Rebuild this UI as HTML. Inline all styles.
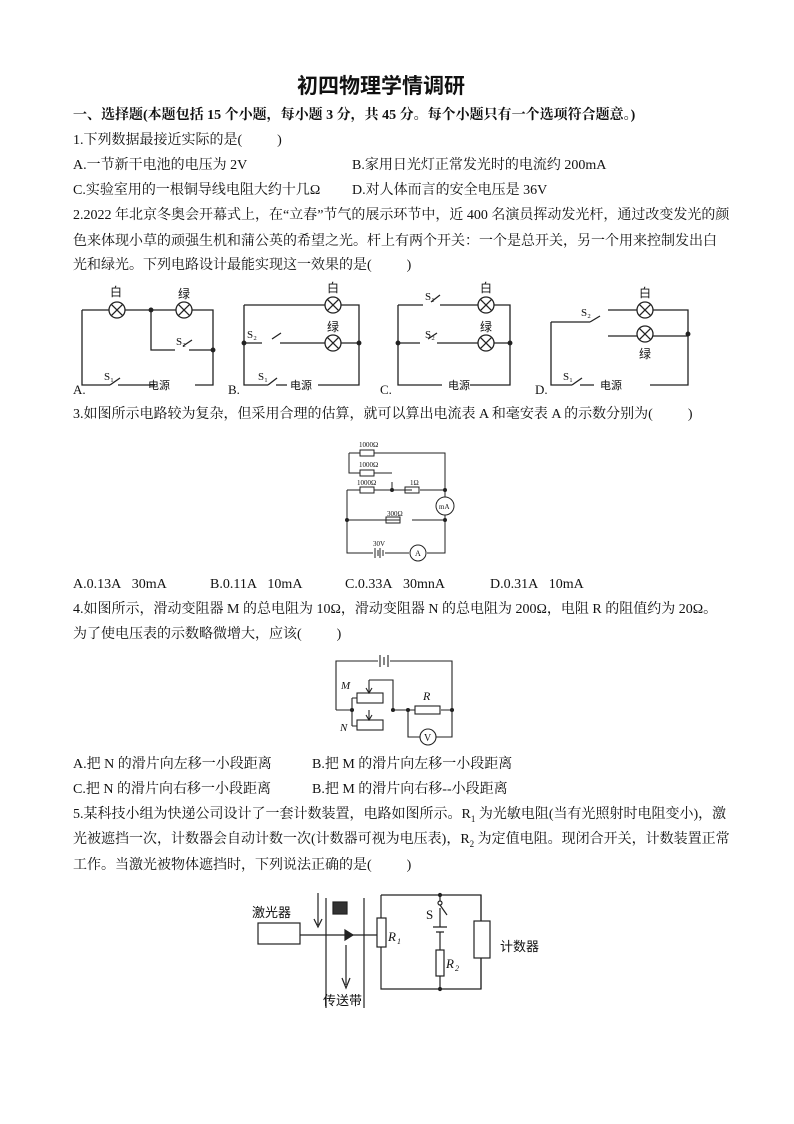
<!DOCTYPE html>
<html><head><meta charset="utf-8"><style>
body{margin:0;background:#fff;}
#p{position:relative;width:794px;height:1124px;overflow:hidden;font-family:"Liberation Serif","Noto Serif CJK SC","Noto Sans CJK SC",serif;color:#111;}
.t{position:absolute;left:73px;font-size:14px;white-space:nowrap;line-height:16px;}
svg{position:absolute;left:0;top:0;}
svg text{font-family:"Liberation Serif","Noto Sans CJK SC",serif;fill:#111;}
</style></head><body><div id="p">
<div class="t" style="left:297px;top:73px;font-size:21px;line-height:24px;font-family:'Noto Sans CJK SC',sans-serif;font-weight:bold;">初四物理学情调研</div>
<div class="t" style="top:108px;font-weight:bold;">一、选择题(本题包括 15 个小题，每小题 3 分，共 45 分。每个小题只有一个选项符合题意。)</div>
<div class="t" style="top:133px;">1.下列数据最接近实际的是(&nbsp;&nbsp;&nbsp;&nbsp;&nbsp;&nbsp;&nbsp;&nbsp;&nbsp;&nbsp;)</div>
<div class="t" style="top:158px;">A.一节新干电池的电压为 2V</div>
<div class="t" style="top:158px;left:352px;">B.家用日光灯正常发光时的电流约 200mA</div>
<div class="t" style="top:183px;">C.实验室用的一根铜导线电阻大约十几Ω</div>
<div class="t" style="top:183px;left:352px;">D.对人体而言的安全电压是 36V</div>
<div class="t" style="top:208px;">2.2022 年北京冬奥会开幕式上，在“立春”节气的展示环节中，近 400 名演员挥动发光杆，通过改变发光的颜</div>
<div class="t" style="top:234px;">色来体现小草的顽强生机和蒲公英的希望之光。杆上有两个开关：一个是总开关，另一个用来控制发出白</div>
<div class="t" style="top:258px;">光和绿光。下列电路设计最能实现这一效果的是(&nbsp;&nbsp;&nbsp;&nbsp;&nbsp;&nbsp;&nbsp;&nbsp;&nbsp;&nbsp;)</div>
<div class="t" style="top:407px;">3.如图所示电路较为复杂，但采用合理的估算，就可以算出电流表 A 和毫安表 A 的示数分别为(&nbsp;&nbsp;&nbsp;&nbsp;&nbsp;&nbsp;&nbsp;&nbsp;&nbsp;&nbsp;)</div>
<div class="t" style="top:577px;">A.0.13A&nbsp;&nbsp;&nbsp;30mA</div>
<div class="t" style="top:577px;left:210px;">B.0.11A&nbsp;&nbsp;&nbsp;10mA</div>
<div class="t" style="top:577px;left:345px;">C.0.33A&nbsp;&nbsp;&nbsp;30mnA</div>
<div class="t" style="top:577px;left:490px;">D.0.31A&nbsp;&nbsp;&nbsp;10mA</div>
<div class="t" style="top:602px;">4.如图所示，滑动变阻器 M 的总电阻为 10Ω，滑动变阻器 N 的总电阻为 200Ω，电阻 R 的阻值约为 20Ω。</div>
<div class="t" style="top:627px;">为了使电压表的示数略微增大，应该(&nbsp;&nbsp;&nbsp;&nbsp;&nbsp;&nbsp;&nbsp;&nbsp;&nbsp;&nbsp;)</div>
<div class="t" style="top:757px;">A.把 N 的滑片向左移一小段距离</div>
<div class="t" style="top:757px;left:312px;">B.把 M 的滑片向左移一小段距离</div>
<div class="t" style="top:782px;">C.把 N 的滑片向右移一小段距离</div>
<div class="t" style="top:782px;left:312px;">B.把 M 的滑片向右移--小段距离</div>
<div class="t" style="top:807px;">5.某科技小组为快递公司设计了一套计数装置，电路如图所示。R<sub style="font-size:9px">1</sub> 为光敏电阻(当有光照射时电阻变小)，激</div>
<div class="t" style="top:832px;">光被遮挡一次，计数器会自动计数一次(计数器可视为电压表)，R<sub style="font-size:9px">2</sub> 为定值电阻。现闭合开关，计数装置正常</div>
<div class="t" style="top:858px;">工作。当激光被物体遮挡时，下列说法正确的是(&nbsp;&nbsp;&nbsp;&nbsp;&nbsp;&nbsp;&nbsp;&nbsp;&nbsp;&nbsp;)</div>

<svg width="794" height="1124" viewBox="0 0 794 1124" stroke="#222" stroke-width="1.3" fill="none">
<defs><g id="L"><circle r="8" fill="#fff"/><path d="M-5.6 -5.6L5.6 5.6M-5.6 5.6L5.6 -5.6"/></g></defs>
<!-- A -->
<path d="M82 310H213V385H195M82 310V385H110M118 385H155M151 310V350H175M183 346L192 340M189 350H213"/>
<path d="M110 385L120 378"/>
<use href="#L" x="117" y="310"/><use href="#L" x="184" y="310"/>
<circle cx="151" cy="310" r="1.8" fill="#222"/><circle cx="213" cy="350" r="1.8" fill="#222"/>
<text x="110" y="296" font-size="12" stroke="none">白</text><text x="178" y="298" font-size="12" stroke="none">绿</text>
<text x="176" y="345" font-size="11" stroke="none">S₂</text><text x="104" y="380" font-size="11" stroke="none">S₁</text>
<text x="148" y="389" font-size="11" stroke="none">电源</text>
<text x="73" y="394" font-size="13" stroke="none">A.</text>
<!-- B -->
<path d="M244 305H359V385H318M244 305V385H268M276 385H287M244 343H262M272 339L281 333M280 343H359"/>
<path d="M268 385L277 378"/>
<use href="#L" x="333" y="305"/><use href="#L" x="333" y="343"/>
<circle cx="244" cy="343" r="1.8" fill="#222"/><circle cx="359" cy="343" r="1.8" fill="#222"/>
<text x="327" y="292" font-size="12" stroke="none">白</text><text x="327" y="331" font-size="12" stroke="none">绿</text>
<text x="247" y="338" font-size="11" stroke="none">S₂</text><text x="258" y="380" font-size="11" stroke="none">S₁</text>
<text x="290" y="389" font-size="11" stroke="none">电源</text>
<text x="228" y="394" font-size="13" stroke="none">B.</text>
<!-- C -->
<path d="M398 305H423M431 302L440 295M440 305H510V385H470M398 305V385H442M398 343H420M428 339L437 333M437 343H510"/>
<use href="#L" x="486" y="305"/><use href="#L" x="486" y="343"/>
<circle cx="398" cy="343" r="1.8" fill="#222"/><circle cx="510" cy="343" r="1.8" fill="#222"/>
<text x="480" y="292" font-size="12" stroke="none">白</text><text x="480" y="331" font-size="12" stroke="none">绿</text>
<text x="425" y="300" font-size="11" stroke="none">S₁</text><text x="425" y="338" font-size="11" stroke="none">S₂</text>
<text x="448" y="389" font-size="11" stroke="none">电源</text>
<text x="380" y="394" font-size="13" stroke="none">C.</text>
<!-- D -->
<path d="M551 322H590M590 322L600 316M608 310H688V385H650M608 336H688M551 322V385H572M580 385H594"/>
<path d="M572 385L582 378"/>
<use href="#L" x="645" y="310"/><use href="#L" x="645" y="334"/>
<circle cx="688" cy="334" r="1.8" fill="#222"/>
<text x="639" y="297" font-size="12" stroke="none">白</text><text x="639" y="358" font-size="12" stroke="none">绿</text>
<text x="581" y="316" font-size="11" stroke="none">S₂</text><text x="563" y="380" font-size="11" stroke="none">S₁</text>
<text x="600" y="389" font-size="11" stroke="none">电源</text>
<text x="535" y="394" font-size="13" stroke="none">D.</text>
<!-- Q3 -->
<g stroke-width="1">
<path d="M349 453H360M374 453H445V497M349 453V473H360M374 473H392M347 490H360M374 490H412M420 490H445M347 490V553H373M385 553H409M427 553H445V515M347 520H400M412 520H445M392 490V482"/>
<rect x="360" y="450" width="14" height="6"/><rect x="360" y="470" width="14" height="6"/><rect x="360" y="487" width="14" height="6"/><rect x="405" y="487" width="14" height="6"/><rect x="386" y="517" width="14" height="6"/>
<path d="M375 548V558M378 550V556M380 548V558M383 550V556"/>
<circle cx="445" cy="506" r="9"/><circle cx="418" cy="553" r="8"/>
<circle cx="445" cy="490" r="1.5" fill="#222"/><circle cx="347" cy="520" r="1.5" fill="#222"/><circle cx="445" cy="520" r="1.5" fill="#222"/><circle cx="392" cy="490" r="1.5" fill="#222"/>
</g>
<g font-size="7" stroke="none"><text x="359" y="447">1000Ω</text><text x="359" y="467">1000Ω</text><text x="357" y="485">1000Ω</text><text x="410" y="485">1Ω</text><text x="387" y="516">300Ω</text><text x="373" y="546">30V</text><text x="439" y="509" font-size="7">mA</text><text x="415" y="556" font-size="8">A</text></g>
<!-- Q4 -->
<g stroke-width="1.1">
<path d="M336 710V661H378M390 661H452V710M380 655V667M384 657V665M388 655V667"/>
<rect x="357" y="693" width="26" height="10"/><rect x="357" y="720" width="26" height="10"/>
<path d="M369 680H393V710M369 680V692M366 688L369 693L372 688M369 710V719M366 715L369 720L372 715"/>
<path d="M336 710H352M352 698V726M352 698H357M352 726H357M393 710H415M441 710H452M408 710V737H420M436 737H452V710"/>
<rect x="415" y="706" width="25" height="8"/><circle cx="428" cy="737" r="8"/>
<circle cx="352" cy="710" r="1.5" fill="#222"/><circle cx="393" cy="710" r="1.5" fill="#222"/><circle cx="408" cy="710" r="1.5" fill="#222"/><circle cx="452" cy="710" r="1.5" fill="#222"/>
</g>
<g stroke="none" font-style="italic"><text x="341" y="689" font-size="11">M</text><text x="340" y="731" font-size="11">N</text><text x="423" y="700" font-size="12">R</text><text x="424" y="741" font-size="10" font-style="normal">V</text></g>
<!-- Q5 -->
<g stroke-width="1.2">
<rect x="258" y="923" width="42" height="21"/>
<path d="M300 935H377M318 893V925M314 919L318 927L322 919M326 898V1008M364 898V1008"/>
<path d="M345 930L353 935L345 940Z" fill="#222"/>
<path d="M346 945V985M342 978L346 988L350 978" />
<rect x="333" y="902" width="14" height="12" fill="#333"/>
<path d="M381 895H481V989H381V946M381 918V895"/>
<rect x="377" y="918" width="9" height="29" fill="#fff"/>
<path d="M440 895V901M440 905L447 915M440 908V927M433 927H447M436 932H444M440 932V950M440 976V989"/>
<circle cx="440" cy="903" r="2" fill="#fff"/>
<rect x="436" y="950" width="8" height="26" fill="#fff"/>
<rect x="474" y="921" width="16" height="37" fill="#fff"/>
<path d="M481 895V921M481 958V989"/>
<circle cx="440" cy="895" r="1.5" fill="#222"/><circle cx="440" cy="989" r="1.5" fill="#222"/>
</g>
<g stroke="none" font-family="'Noto Sans CJK SC',sans-serif"><text x="252" y="917" font-size="13">激光器</text><text x="323" y="1005" font-size="13">传送带</text><text x="500" y="951" font-size="13">计数器</text></g>
<g stroke="none" font-style="italic" font-size="13"><text x="388" y="941">R</text><text x="397" y="944" font-size="8">1</text><text x="446" y="968">R</text><text x="455" y="971" font-size="8">2</text><text x="426" y="919" font-style="normal">S</text></g>
</svg>
</div></body></html>
